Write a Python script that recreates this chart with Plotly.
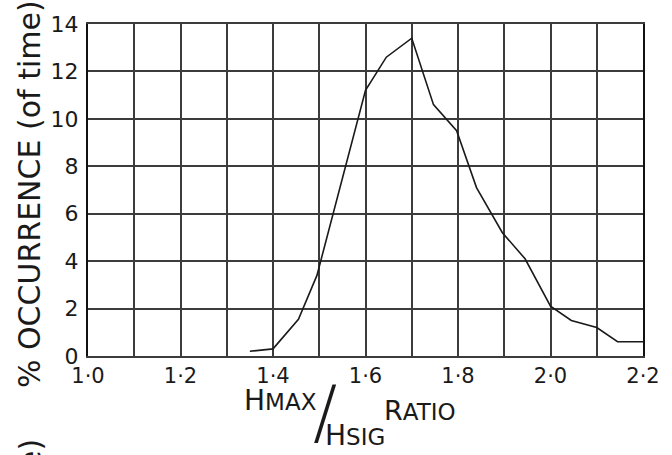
import plotly.graph_objects as go

# data
ratio = [1.35, 1.40, 1.455, 1.495, 1.60, 1.645, 1.70, 1.747, 1.797, 1.84,
         1.896, 1.945, 2.0, 2.045, 2.10, 2.145, 2.20]
occurrence = [0.2, 0.3, 1.55, 3.4, 11.2, 12.6, 13.4, 10.6, 9.5, 7.1,
              5.2, 4.1, 2.1, 1.5, 1.2, 0.6, 0.6]

x_tick_vals = [1.0, 1.1, 1.2, 1.3, 1.4, 1.5, 1.6, 1.7, 1.8, 1.9, 2.0, 2.1, 2.2]
x_tick_text = ["1·0", "", "1·2", "", "1·4", "", "1·6", "", "1·8", "", "2·0", "", "2·2"]
y_tick_vals = [0, 2, 4, 6, 8, 10, 12, 14]
y_tick_text = ["0", "2", "4", "6", "8", "10", "12", "14"]

W, H = 672, 455
L, R, T, B = 88, 19, 24, 99
pw, ph = W - L - R, H - T - B


def px(x):
    return (x - L) / pw


def py(y):
    return (H - B - y) / ph


FONT = "DejaVu Sans"
INK = "#1a1a1a"
GRID = "#3c3c3c"

fig = go.Figure()
fig.add_trace(go.Scatter(x=ratio, y=occurrence, mode="lines",
                         line=dict(color=INK, width=1.6), showlegend=False))

fig.update_layout(
    width=W, height=H,
    margin=dict(l=L, r=R, t=T, b=B, pad=0),
    paper_bgcolor="white", plot_bgcolor="white",
    font=dict(family=FONT, color=INK, size=20),
    xaxis=dict(range=[1.0, 2.2], tickvals=x_tick_vals, ticktext=x_tick_text,
               showgrid=True, gridcolor=GRID, gridwidth=2,
               showline=True, linecolor=GRID, linewidth=2, mirror=True,
               ticks="", zeroline=False, ticklabelstandoff=0,
               tickfont=dict(size=21, family=FONT, color=INK)),
    yaxis=dict(range=[0, 14], tickvals=y_tick_vals, ticktext=y_tick_text,
               showgrid=True, gridcolor=GRID, gridwidth=2,
               showline=True, linecolor="#111", linewidth=2, mirror=True,
               ticks="", zeroline=False, ticklabelstandoff=3,
               tickfont=dict(size=22, family=FONT, color=INK)),
)

ann = []
# y-axis title
ann.append(dict(text="% OCCURRENCE (of time)", x=px(29), y=py(194), xref="paper", yref="paper",
                textangle=-90, showarrow=False, xanchor="center", yanchor="middle",
                font=dict(size=30, family=FONT, color=INK)))
# fragment of neighbouring figure's title at bottom-left
ann.append(dict(text="e)", x=px(29), y=py(454), xref="paper", yref="paper",
                textangle=-90, showarrow=False, xanchor="center", yanchor="middle",
                font=dict(size=30, family=FONT, color=INK)))
# x-axis title pieces
ann.append(dict(text="H<span style='font-size:23px'>MAX</span>", x=px(245), y=py(401),
                xref="paper", yref="paper", showarrow=False, xanchor="left", yanchor="middle",
                font=dict(size=28, family=FONT, color=INK)))
ann.append(dict(text="/", x=px(329), y=py(411), xref="paper", yref="paper",
                showarrow=False, xanchor="center", yanchor="middle",
                font=dict(size=72, family=FONT, color=INK, weight=200)))
ann.append(dict(text="H<span style='font-size:23px'>SIG</span>", x=px(327), y=py(436),
                xref="paper", yref="paper", showarrow=False, xanchor="left", yanchor="middle",
                font=dict(size=28, family=FONT, color=INK)))
ann.append(dict(text="R<span style='font-size:23px'>ATIO</span>", x=px(387), y=py(410),
                xref="paper", yref="paper", showarrow=False, xanchor="left", yanchor="middle",
                font=dict(size=27, family=FONT, color=INK)))
fig.update_layout(annotations=ann)

fig.write_html("out.html")
